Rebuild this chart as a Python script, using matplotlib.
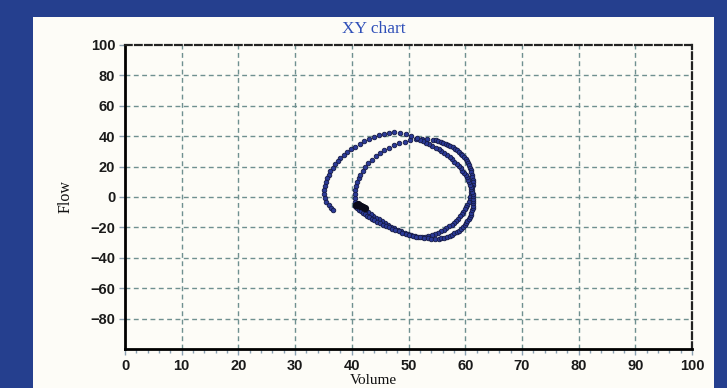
import matplotlib.pyplot as plt
from matplotlib.patches import Rectangle

# first loop in pieces
up_arc_volume = [40.6, 40.5, 40.5, 40.6, 40.7, 40.9, 41.2, 41.5, 41.9, 42.4, 42.9, 43.5,
                 44.2, 44.9, 45.7, 46.5, 47.4, 48.3, 49.3, 50.3, 51.3, 52.3, 53.3, 54.3]
up_arc_flow = [-3.0, -0.5, 2.0, 4.5, 7.0, 9.6, 12.2, 14.8, 17.3, 19.8, 22.2, 24.5,
               26.7, 28.8, 30.7, 32.5, 34.0, 35.3, 36.4, 37.3, 37.9, 38.2, 38.1, 37.7]

right1_volume = [54.8, 55.2, 55.7, 56.1, 56.6, 57.0, 57.4, 57.8, 58.2, 58.5, 58.9, 59.2,
                 59.5, 59.8, 60.1, 60.3, 60.5, 60.7, 60.9, 61.0, 61.1, 61.2, 61.2, 61.3,
                 61.3, 61.3, 61.2, 61.2, 61.1, 61.0, 60.9, 60.8, 60.6, 60.4, 60.2, 60.0,
                 59.7, 59.4, 59.1, 58.8, 58.4, 58.0, 57.6, 57.2, 56.7, 56.2, 55.7, 55.2,
                 54.6, 54.1, 53.5, 52.9, 52.3]
right1_flow = [37.3, 36.9, 36.4, 35.8, 35.1, 34.4, 33.6, 32.7, 31.8, 30.8, 29.7, 28.6,
               27.4, 26.2, 24.9, 23.6, 22.2, 20.8, 19.3, 17.8, 16.3, 14.7, 13.1, 11.5,
               9.9, 8.2, 6.6, 4.9, 3.3, 1.6, -0.1, -1.7, -3.4, -5.0, -6.6, -8.2,
               -9.8, -11.3, -12.8, -14.2, -15.6, -16.9, -18.2, -19.4, -20.5, -21.6, -22.6, -23.5,
               -24.3, -25.0, -25.6, -26.1, -26.6]

lens_up_volume = [51.7, 51.1, 50.5, 49.9, 49.3, 48.7, 48.1, 47.5, 47.0, 46.4, 45.9,
                  45.3, 44.8, 44.3, 43.8, 43.3, 42.8, 42.4, 42.0, 41.6, 41.3, 41.0]
lens_up_flow = [-26.2, -25.8, -25.1, -24.4, -23.5, -22.6, -21.6, -20.6, -19.5, -18.4, -17.2,
                -16.0, -14.8, -13.6, -12.4, -11.2, -10.1, -9.0, -7.9, -6.9, -5.9, -5.0]

# slow turning point (a dark blob)
turn_volume = [40.9, 41.2, 41.5, 41.9, 42.3, 41.7, 41.1, 40.7]
turn_flow = [-5.0, -5.5, -6.0, -6.5, -7.0, -5.8, -4.6, -5.4]

# second loop
lens_low_volume = [40.6, 40.8, 41.0, 41.3, 41.6, 41.9, 42.3, 42.7, 43.1, 43.5, 44.0, 44.5,
                   45.0, 45.5, 46.0, 46.5, 47.1, 47.7, 48.3, 48.9, 49.5, 50.1, 50.8, 51.4,
                   52.1, 52.7, 53.4, 54.0, 54.7]
lens_low_flow = [-5.8, -6.6, -7.5, -8.4, -9.3, -10.2, -11.2, -12.2, -13.2, -14.2, -15.2, -16.2,
                 -17.2, -18.2, -19.1, -20.0, -20.9, -21.8, -22.6, -23.4, -24.1, -24.8, -25.4, -26.0,
                 -26.5, -26.9, -27.3, -27.5, -27.6]

right2_volume = [55.3, 55.8, 56.3, 56.8, 57.3, 57.7, 58.1, 58.5, 58.9, 59.3, 59.6, 59.9,
                 60.2, 60.4, 60.6, 60.8, 61.0, 61.1, 61.2, 61.3, 61.4, 61.4, 61.4, 61.4,
                 61.3, 61.3, 61.2, 61.1, 61.0, 60.9, 60.7, 60.5, 60.3, 60.1, 59.8, 59.5,
                 59.2, 58.9, 58.5, 58.1, 57.7, 57.3, 56.8]
right2_flow = [-27.4, -27.2, -26.8, -26.3, -25.6, -24.9, -24.0, -23.1, -22.1, -21.0, -19.8, -18.6,
               -17.3, -16.0, -14.6, -13.2, -11.8, -10.3, -8.8, -7.3, -5.7, -4.2, -2.6, -1.1,
               0.5, 2.0, 3.6, 5.1, 6.7, 8.2, 9.8, 11.3, 12.9, 14.4, 15.9, 17.4,
               18.9, 20.4, 21.9, 23.3, 24.7, 26.1, 27.5]

top_arc_volume = [56.3, 55.8, 55.3, 54.8, 54.2, 53.7, 53.1, 52.6, 52.0, 51.5, 50.5, 49.5,
                  48.5, 47.5, 46.6, 45.7, 44.8, 43.9, 43.0, 42.2, 41.4, 40.6, 39.9, 39.2,
                  38.6, 38.0, 37.5, 37.0, 36.6, 36.2, 35.9, 35.6, 35.4, 35.2, 35.1, 35.1,
                  35.2, 35.5, 35.9, 36.4]
top_arc_flow = [28.8, 30.1, 31.3, 32.5, 33.6, 34.7, 35.8, 36.8, 37.7, 38.6, 40.2, 41.5,
                42.3, 42.6, 42.2, 41.4, 40.5, 39.4, 38.0, 36.6, 35.0, 33.2, 31.3, 29.5,
                27.6, 25.6, 23.5, 21.4, 19.2, 17.0, 14.6, 12.2, 9.6, 7.0, 4.4, 1.8,
                -0.8, -3.2, -5.3, -7.0]
tail_volume = [36.7]
tail_flow = [-8.3]

x_ticks = [0, 10, 20, 30, 40, 50, 60, 70, 80, 90, 100]
y_ticks = [-80, -60, -40, -20, 0, 20, 40, 60, 80, 100]

volume = (up_arc_volume + right1_volume + lens_up_volume + lens_low_volume
          + right2_volume + top_arc_volume + tail_volume)
flow = (up_arc_flow + right1_flow + lens_up_flow + lens_low_flow
        + right2_flow + top_arc_flow + tail_flow)

W, H = 727, 388
fig = plt.figure(figsize=(W / 100, H / 100), dpi=100, facecolor="#253f8e")
fig.patches.append(Rectangle((33 / W, 0), (714 - 33) / W, (H - 17) / H,
                             transform=fig.transFigure, facecolor="#fdfcf7",
                             edgecolor="none", zorder=-5))

ax = fig.add_axes([125 / W, (H - 349) / H, (692 - 125) / W, (349 - 45) / H])
ax.set_zorder(2)
ax.set_facecolor("#fdfcf7")

grid_kw = dict(color="#6f9090", linewidth=1.0, linestyle=(0, (3.5, 2.5)), zorder=1)
for x in x_ticks[1:-1]:
    ax.axvline(x, **grid_kw)
for y in y_ticks[:-1]:
    ax.axhline(y, **grid_kw)

ax.plot(volume, flow, marker="o", linestyle="none", markersize=3.3,
        markerfacecolor="#2b3a98", markeredgecolor="#151a45", markeredgewidth=0.6,
        zorder=3)
ax.plot(turn_volume, turn_flow, marker="o", linestyle="none", markersize=4.2,
        color="#0b0b1a", zorder=4)

ax.set_xlim(0, 100)
ax.set_ylim(-100, 100)
ax.set_xticks(x_ticks)
ax.set_yticks(y_ticks)
ax.set_xticks(range(0, 101, 2), minor=True)

for side in ["left", "bottom"]:
    ax.spines[side].set_linewidth(2.0)
    ax.spines[side].set_color("black")
for side in ["top", "right"]:
    ax.spines[side].set_linewidth(1.6)
    ax.spines[side].set_linestyle((0, (3, 1.5)))
    ax.spines[side].set_color("#222222")

ax.tick_params(axis="both", which="major", length=4, width=1, color="#8aa0b0",
               labelsize=10.5)
ax.tick_params(axis="x", which="major", pad=3)
ax.tick_params(axis="y", which="major", pad=3)
ax.tick_params(axis="x", which="minor", length=3, width=1, color="#8aa0b0")
for lbl in ax.get_xticklabels() + ax.get_yticklabels():
    lbl.set_fontfamily("Liberation Sans")
    lbl.set_fontweight("bold")
    lbl.set_color("#1a1a1a")

fig.text(374 / W, 1 - 29 / H, "XY chart", ha="center", va="center",
         family="Liberation Serif", fontsize=12.5, color="#2f4fb8")
fig.text(373 / W, 1 / H, "Volume", ha="center", va="bottom",
         family="Liberation Serif", fontsize=11, color="#111111")
fig.text(66 / W, 1 - 197 / H, "Flow", ha="center", va="center", rotation=90,
         family="Liberation Serif", fontsize=11.5, color="#111111")

fig.savefig("out.png", dpi=100, facecolor=fig.get_facecolor())
